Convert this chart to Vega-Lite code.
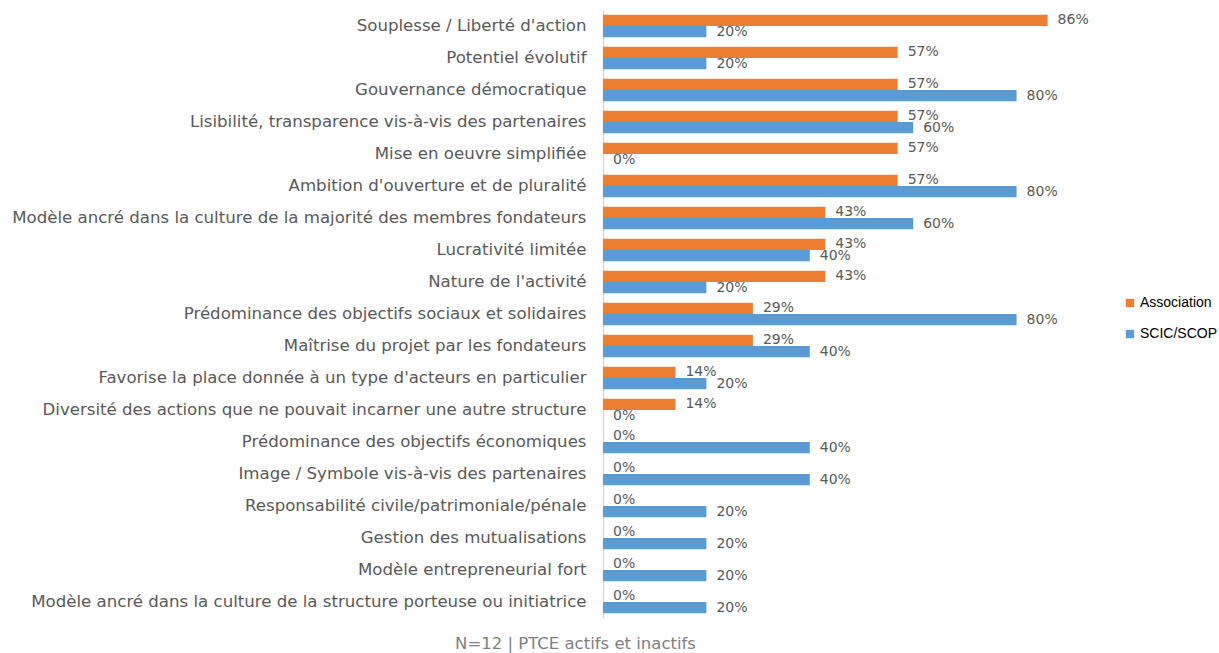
{
  "$schema": "https://vega.github.io/schema/vega-lite/v6.json",
  "autosize": "none",
  "width": 517,
  "height": 608,
  "padding": {"left": 603, "top": 10, "right": 99, "bottom": 35},
  "background": "white",
  "config": {"view": {"stroke": null}},
  "title": {
    "text": "N=12 | PTCE actifs et inactifs",
    "orient": "bottom",
    "anchor": "middle",
    "frame": "group",
    "dx": -286,
    "offset": 18,
    "fontSize": 16.5,
    "font": "DejaVu Sans",
    "fontWeight": "normal",
    "color": "#808080"
  },
  "data": {
    "values": [
      {"cat": "Souplesse / Liberté d'action", "serie": "Association", "v": 0.86},
      {"cat": "Souplesse / Liberté d'action", "serie": "SCIC/SCOP", "v": 0.20},
      {"cat": "Potentiel évolutif", "serie": "Association", "v": 0.57},
      {"cat": "Potentiel évolutif", "serie": "SCIC/SCOP", "v": 0.20},
      {"cat": "Gouvernance démocratique", "serie": "Association", "v": 0.57},
      {"cat": "Gouvernance démocratique", "serie": "SCIC/SCOP", "v": 0.80},
      {"cat": "Lisibilité, transparence vis-à-vis des partenaires", "serie": "Association", "v": 0.57},
      {"cat": "Lisibilité, transparence vis-à-vis des partenaires", "serie": "SCIC/SCOP", "v": 0.60},
      {"cat": "Mise en oeuvre simplifiée", "serie": "Association", "v": 0.57},
      {"cat": "Mise en oeuvre simplifiée", "serie": "SCIC/SCOP", "v": 0},
      {"cat": "Ambition d'ouverture et de pluralité", "serie": "Association", "v": 0.57},
      {"cat": "Ambition d'ouverture et de pluralité", "serie": "SCIC/SCOP", "v": 0.80},
      {"cat": "Modèle ancré dans la culture de la majorité des membres fondateurs", "serie": "Association", "v": 0.43},
      {"cat": "Modèle ancré dans la culture de la majorité des membres fondateurs", "serie": "SCIC/SCOP", "v": 0.60},
      {"cat": "Lucrativité limitée", "serie": "Association", "v": 0.43},
      {"cat": "Lucrativité limitée", "serie": "SCIC/SCOP", "v": 0.40},
      {"cat": "Nature de l'activité", "serie": "Association", "v": 0.43},
      {"cat": "Nature de l'activité", "serie": "SCIC/SCOP", "v": 0.20},
      {"cat": "Prédominance des objectifs sociaux et solidaires", "serie": "Association", "v": 0.29},
      {"cat": "Prédominance des objectifs sociaux et solidaires", "serie": "SCIC/SCOP", "v": 0.80},
      {"cat": "Maîtrise du projet par les fondateurs", "serie": "Association", "v": 0.29},
      {"cat": "Maîtrise du projet par les fondateurs", "serie": "SCIC/SCOP", "v": 0.40},
      {"cat": "Favorise la place donnée à un type d'acteurs en particulier", "serie": "Association", "v": 0.14},
      {"cat": "Favorise la place donnée à un type d'acteurs en particulier", "serie": "SCIC/SCOP", "v": 0.20},
      {"cat": "Diversité des actions que ne pouvait incarner une autre structure", "serie": "Association", "v": 0.14},
      {"cat": "Diversité des actions que ne pouvait incarner une autre structure", "serie": "SCIC/SCOP", "v": 0},
      {"cat": "Prédominance des objectifs économiques", "serie": "Association", "v": 0},
      {"cat": "Prédominance des objectifs économiques", "serie": "SCIC/SCOP", "v": 0.40},
      {"cat": "Image / Symbole vis-à-vis des partenaires", "serie": "Association", "v": 0},
      {"cat": "Image / Symbole vis-à-vis des partenaires", "serie": "SCIC/SCOP", "v": 0.40},
      {"cat": "Responsabilité civile/patrimoniale/pénale", "serie": "Association", "v": 0},
      {"cat": "Responsabilité civile/patrimoniale/pénale", "serie": "SCIC/SCOP", "v": 0.20},
      {"cat": "Gestion des mutualisations", "serie": "Association", "v": 0},
      {"cat": "Gestion des mutualisations", "serie": "SCIC/SCOP", "v": 0.20},
      {"cat": "Modèle entrepreneurial fort", "serie": "Association", "v": 0},
      {"cat": "Modèle entrepreneurial fort", "serie": "SCIC/SCOP", "v": 0.20},
      {"cat": "Modèle ancré dans la culture de la structure porteuse ou initiatrice", "serie": "Association", "v": 0},
      {"cat": "Modèle ancré dans la culture de la structure porteuse ou initiatrice", "serie": "SCIC/SCOP", "v": 0.20}
    ]
  },
  "encoding": {
    "y": {
      "field": "cat",
      "type": "nominal",
      "sort": null,
      "scale": {"paddingInner": 0.3, "paddingOuter": 0.15},
      "axis": {
        "title": null,
        "ticks": false,
        "labelFont": "DejaVu Sans",
        "labelFontSize": 16.6,
        "labelColor": "#595959",
        "labelPadding": 17,
        "labelLimit": 650,
        "domainColor": "#d9d9d9",
        "domainWidth": 1.5,
        "grid": false
      }
    },
    "yOffset": {"field": "serie", "type": "nominal", "sort": ["Association", "SCIC/SCOP"]},
    "x": {
      "field": "v",
      "type": "quantitative",
      "scale": {"domain": [0, 1], "nice": false},
      "axis": null
    }
  },
  "layer": [
    {
      "mark": {"type": "bar"},
      "encoding": {
        "color": {
          "field": "serie",
          "type": "nominal",
          "scale": {"domain": ["Association", "SCIC/SCOP"], "range": ["#ED7D31", "#5B9BD5"]},
          "legend": {
            "title": null,
            "orient": "none",
            "legendX": 520,
            "legendY": 286,
            "symbolType": "square",
            "symbolSize": 70,
            "symbolStrokeWidth": 0,
            "labelFont": "Liberation Sans",
            "labelFontSize": 14,
            "labelColor": "#000000",
            "labelLimit": 200,
            "rowPadding": 17,
            "labelOffset": 3
          }
        }
      }
    },
    {
      "mark": {"type": "text", "align": "left", "baseline": "middle", "dx": 10, "font": "DejaVu Sans", "fontSize": 14, "color": "#595959"},
      "encoding": {
        "text": {"field": "v", "type": "quantitative", "format": ".0%"}
      }
    }
  ]
}
